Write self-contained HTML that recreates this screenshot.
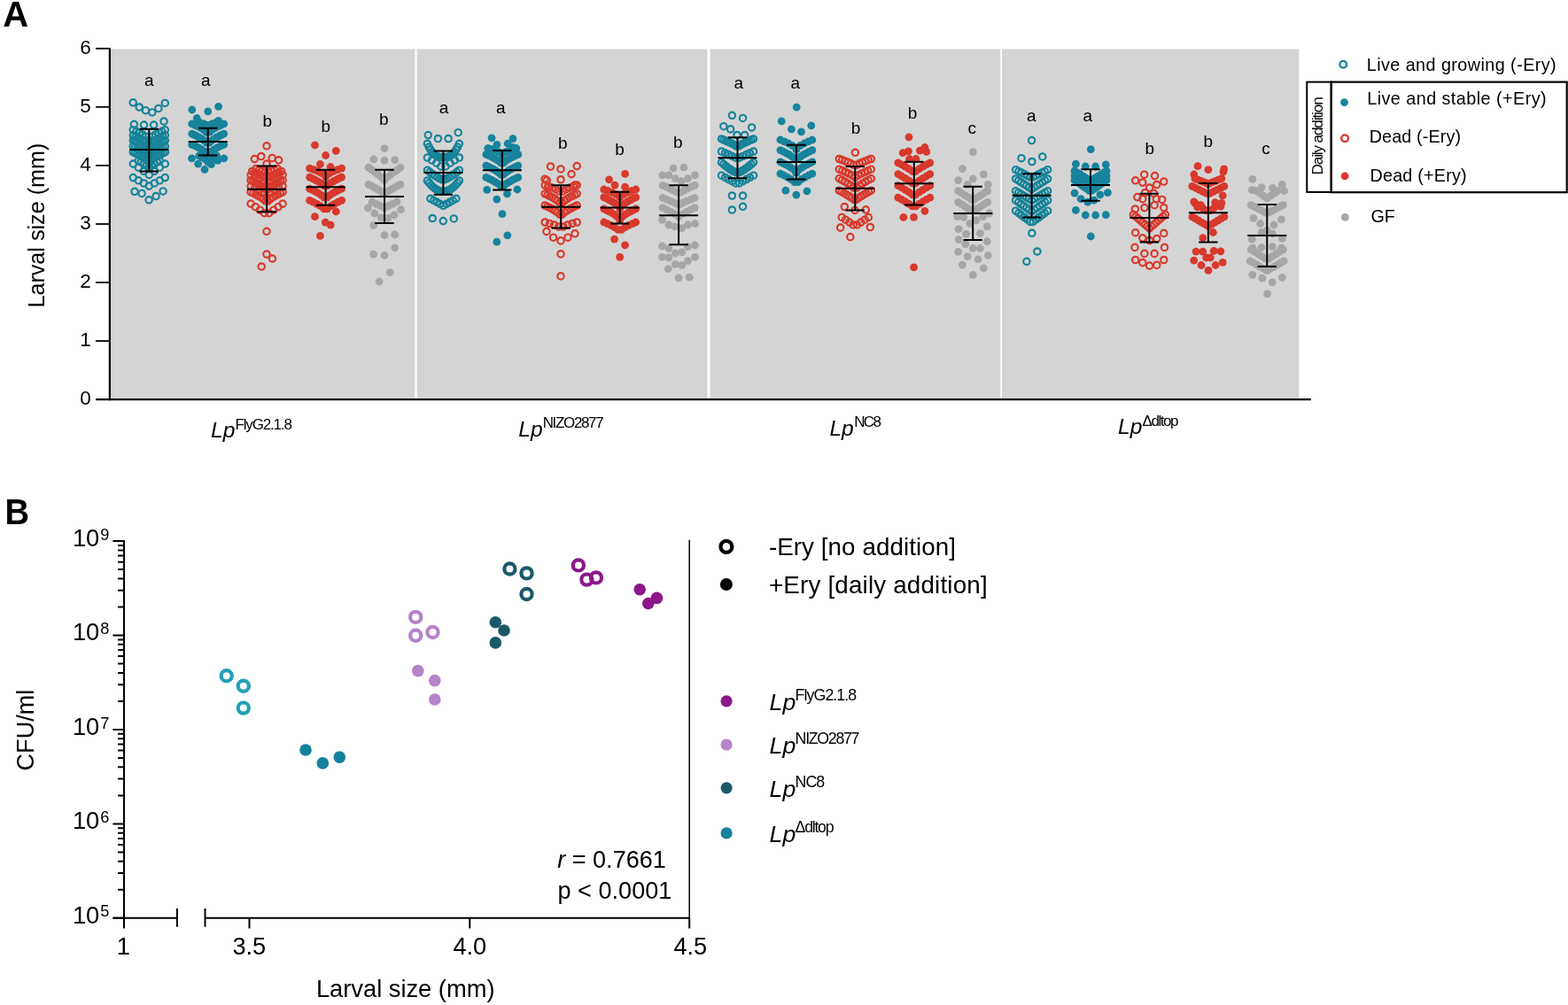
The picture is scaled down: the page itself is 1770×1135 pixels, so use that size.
<!DOCTYPE html>
<html lang="en"><head><meta charset="utf-8"><title>Figure: larval size and CFU</title>
<style>html,body{margin:0;padding:0;background:#fff}body{width:1770px;height:1135px;overflow:hidden}svg{display:block}</style>
</head><body>
<svg width="1770" height="1135" viewBox="0 0 1770 1135" font-family="'Liberation Sans', sans-serif" fill="#000">
<rect width="1770" height="1135" fill="#fff"/>
<g id="panelA">
<rect x="124" y="55.4" width="1342.4" height="395" fill="#d4d4d4"/>
<rect x="468.40" y="54" width="2.2" height="396.5" fill="#fff"/>
<rect x="798.40" y="54" width="3.2" height="396.5" fill="#fff"/>
<rect x="1129.25" y="54" width="1.8" height="396.5" fill="#fff"/>
<g fill="none" stroke="#15839a" stroke-width="2.15">
<circle cx="150.2" cy="115.8" r="3.7"/>
<circle cx="157.2" cy="121" r="3.7"/>
<circle cx="164.4" cy="124.7" r="3.7"/>
<circle cx="171.8" cy="126.9" r="3.7"/>
<circle cx="178.9" cy="122.4" r="3.7"/>
<circle cx="186.3" cy="116.4" r="3.7"/>
<circle cx="151.4" cy="140.3" r="3.7"/>
<circle cx="162.5" cy="141.1" r="3.7"/>
<circle cx="173.6" cy="141.1" r="3.7"/>
<circle cx="185" cy="137" r="3.7"/>
<circle cx="150.3" cy="146.7" r="3.7"/>
<circle cx="153.9" cy="148.3" r="3.7"/>
<circle cx="157.5" cy="149.9" r="3.7"/>
<circle cx="161.1" cy="151.9" r="3.7"/>
<circle cx="164.7" cy="154.2" r="3.7"/>
<circle cx="168.3" cy="158.2" r="3.7"/>
<circle cx="171.9" cy="154.2" r="3.7"/>
<circle cx="175.5" cy="151.9" r="3.7"/>
<circle cx="179.1" cy="149.9" r="3.7"/>
<circle cx="182.7" cy="148.3" r="3.7"/>
<circle cx="186.3" cy="146.7" r="3.7"/>
<circle cx="150.3" cy="152.8" r="3.7"/>
<circle cx="153.1" cy="154" r="3.7"/>
<circle cx="155.8" cy="155.4" r="3.7"/>
<circle cx="158.6" cy="156.8" r="3.7"/>
<circle cx="161.4" cy="158.4" r="3.7"/>
<circle cx="164.1" cy="160.2" r="3.7"/>
<circle cx="166.9" cy="162.5" r="3.7"/>
<circle cx="169.7" cy="162.5" r="3.7"/>
<circle cx="172.5" cy="160.2" r="3.7"/>
<circle cx="175.2" cy="158.4" r="3.7"/>
<circle cx="178" cy="156.8" r="3.7"/>
<circle cx="180.8" cy="155.4" r="3.7"/>
<circle cx="183.5" cy="154" r="3.7"/>
<circle cx="186.3" cy="152.8" r="3.7"/>
<circle cx="150.3" cy="158.7" r="3.7"/>
<circle cx="152.4" cy="159.7" r="3.7"/>
<circle cx="154.5" cy="160.7" r="3.7"/>
<circle cx="156.7" cy="161.8" r="3.7"/>
<circle cx="158.8" cy="162.9" r="3.7"/>
<circle cx="160.9" cy="164.2" r="3.7"/>
<circle cx="163" cy="165.6" r="3.7"/>
<circle cx="165.1" cy="167.2" r="3.7"/>
<circle cx="167.2" cy="169.2" r="3.7"/>
<circle cx="169.4" cy="169.2" r="3.7"/>
<circle cx="171.5" cy="167.2" r="3.7"/>
<circle cx="173.6" cy="165.6" r="3.7"/>
<circle cx="175.7" cy="164.2" r="3.7"/>
<circle cx="177.8" cy="162.9" r="3.7"/>
<circle cx="179.9" cy="161.8" r="3.7"/>
<circle cx="182.1" cy="160.7" r="3.7"/>
<circle cx="184.2" cy="159.7" r="3.7"/>
<circle cx="186.3" cy="158.7" r="3.7"/>
<circle cx="150.3" cy="165.3" r="3.7"/>
<circle cx="152.7" cy="166.4" r="3.7"/>
<circle cx="155.1" cy="167.6" r="3.7"/>
<circle cx="157.5" cy="168.8" r="3.7"/>
<circle cx="159.9" cy="170.2" r="3.7"/>
<circle cx="162.3" cy="171.7" r="3.7"/>
<circle cx="164.7" cy="173.4" r="3.7"/>
<circle cx="167.1" cy="175.6" r="3.7"/>
<circle cx="169.5" cy="175.6" r="3.7"/>
<circle cx="171.9" cy="173.4" r="3.7"/>
<circle cx="174.3" cy="171.7" r="3.7"/>
<circle cx="176.7" cy="170.2" r="3.7"/>
<circle cx="179.1" cy="168.8" r="3.7"/>
<circle cx="181.5" cy="167.6" r="3.7"/>
<circle cx="183.9" cy="166.4" r="3.7"/>
<circle cx="186.3" cy="165.3" r="3.7"/>
<circle cx="150.3" cy="171.8" r="3.7"/>
<circle cx="152.6" cy="172.8" r="3.7"/>
<circle cx="154.8" cy="173.9" r="3.7"/>
<circle cx="157.1" cy="175.1" r="3.7"/>
<circle cx="159.3" cy="176.3" r="3.7"/>
<circle cx="161.6" cy="177.7" r="3.7"/>
<circle cx="163.8" cy="179.2" r="3.7"/>
<circle cx="166.1" cy="181.1" r="3.7"/>
<circle cx="168.3" cy="184.3" r="3.7"/>
<circle cx="170.6" cy="181.1" r="3.7"/>
<circle cx="172.8" cy="179.2" r="3.7"/>
<circle cx="175.1" cy="177.7" r="3.7"/>
<circle cx="177.3" cy="176.3" r="3.7"/>
<circle cx="179.6" cy="175.1" r="3.7"/>
<circle cx="181.8" cy="173.9" r="3.7"/>
<circle cx="184.1" cy="172.8" r="3.7"/>
<circle cx="186.3" cy="171.8" r="3.7"/>
<circle cx="156.3" cy="181.5" r="3.7"/>
<circle cx="159.3" cy="183" r="3.7"/>
<circle cx="162.3" cy="184.8" r="3.7"/>
<circle cx="165.3" cy="186.8" r="3.7"/>
<circle cx="168.3" cy="190.5" r="3.7"/>
<circle cx="171.3" cy="186.8" r="3.7"/>
<circle cx="174.3" cy="184.8" r="3.7"/>
<circle cx="177.3" cy="183" r="3.7"/>
<circle cx="180.3" cy="181.5" r="3.7"/>
<circle cx="150.3" cy="185.1" r="3.7"/>
<circle cx="156.3" cy="189.2" r="3.7"/>
<circle cx="162.3" cy="193.3" r="3.7"/>
<circle cx="168.3" cy="197.4" r="3.7"/>
<circle cx="174.3" cy="193.3" r="3.7"/>
<circle cx="180.3" cy="189.2" r="3.7"/>
<circle cx="186.3" cy="185.1" r="3.7"/>
<circle cx="150.3" cy="200.6" r="3.7"/>
<circle cx="156.3" cy="203.8" r="3.7"/>
<circle cx="162.3" cy="206.9" r="3.7"/>
<circle cx="168.3" cy="210.1" r="3.7"/>
<circle cx="174.3" cy="206.9" r="3.7"/>
<circle cx="180.3" cy="203.8" r="3.7"/>
<circle cx="186.3" cy="200.6" r="3.7"/>
<circle cx="152" cy="216.3" r="3.7"/>
<circle cx="160.1" cy="218.4" r="3.7"/>
<circle cx="168.1" cy="225.8" r="3.7"/>
<circle cx="176.1" cy="221.5" r="3.7"/>
<circle cx="184.1" cy="215.9" r="3.7"/>
</g>
<path d="M146.3 169.1H190.3M168.3 145.7V193.5M157.6 145.7H179M157.6 193.5H179" stroke="#000" stroke-width="2" fill="none"/>
<text x="168.4" y="96.5" font-size="19" text-anchor="middle">a</text>
<g fill="#17839c">
<circle cx="216.8" cy="124" r="4.4"/>
<circle cx="234.7" cy="125.9" r="4.4"/>
<circle cx="246.6" cy="120.3" r="4.4"/>
<circle cx="222.3" cy="133.5" r="4.4"/>
<circle cx="246.6" cy="136.4" r="4.4"/>
<circle cx="225.7" cy="138.5" r="4.4"/>
<circle cx="230.2" cy="140" r="4.4"/>
<circle cx="234.7" cy="141.5" r="4.4"/>
<circle cx="239.2" cy="140" r="4.4"/>
<circle cx="243.7" cy="138.5" r="4.4"/>
<circle cx="216.7" cy="139.8" r="4.4"/>
<circle cx="220" cy="141.3" r="4.4"/>
<circle cx="223.3" cy="142.9" r="4.4"/>
<circle cx="226.5" cy="144.6" r="4.4"/>
<circle cx="229.8" cy="146.6" r="4.4"/>
<circle cx="233.1" cy="149.3" r="4.4"/>
<circle cx="236.4" cy="149.3" r="4.4"/>
<circle cx="239.6" cy="146.6" r="4.4"/>
<circle cx="242.9" cy="144.6" r="4.4"/>
<circle cx="246.2" cy="142.9" r="4.4"/>
<circle cx="249.4" cy="141.3" r="4.4"/>
<circle cx="252.7" cy="139.8" r="4.4"/>
<circle cx="216.7" cy="151.1" r="4.4"/>
<circle cx="219.5" cy="152.4" r="4.4"/>
<circle cx="222.3" cy="153.8" r="4.4"/>
<circle cx="225" cy="155.2" r="4.4"/>
<circle cx="227.8" cy="156.9" r="4.4"/>
<circle cx="230.6" cy="158.8" r="4.4"/>
<circle cx="233.3" cy="161.2" r="4.4"/>
<circle cx="236.1" cy="161.2" r="4.4"/>
<circle cx="238.9" cy="158.8" r="4.4"/>
<circle cx="241.6" cy="156.9" r="4.4"/>
<circle cx="244.4" cy="155.2" r="4.4"/>
<circle cx="247.2" cy="153.8" r="4.4"/>
<circle cx="250" cy="152.4" r="4.4"/>
<circle cx="252.7" cy="151.1" r="4.4"/>
<circle cx="216.7" cy="163.3" r="4.4"/>
<circle cx="220.3" cy="164.9" r="4.4"/>
<circle cx="223.9" cy="166.7" r="4.4"/>
<circle cx="227.5" cy="168.7" r="4.4"/>
<circle cx="231.1" cy="171.1" r="4.4"/>
<circle cx="234.7" cy="175.3" r="4.4"/>
<circle cx="238.3" cy="171.1" r="4.4"/>
<circle cx="241.9" cy="168.7" r="4.4"/>
<circle cx="245.5" cy="166.7" r="4.4"/>
<circle cx="249.1" cy="164.9" r="4.4"/>
<circle cx="252.7" cy="163.3" r="4.4"/>
<circle cx="224.7" cy="176" r="4.4"/>
<circle cx="228.1" cy="177.6" r="4.4"/>
<circle cx="231.4" cy="179.6" r="4.4"/>
<circle cx="234.7" cy="183" r="4.4"/>
<circle cx="238.1" cy="179.6" r="4.4"/>
<circle cx="241.4" cy="177.6" r="4.4"/>
<circle cx="244.7" cy="176" r="4.4"/>
<circle cx="216.5" cy="178.9" r="4.4"/>
<circle cx="223.6" cy="185.1" r="4.4"/>
<circle cx="231" cy="191.5" r="4.4"/>
<circle cx="238.4" cy="185.7" r="4.4"/>
<circle cx="245.8" cy="181.4" r="4.4"/>
<circle cx="252.8" cy="178.9" r="4.4"/>
</g>
<path d="M212.7 160H256.7M234.7 144.7V175.6M224 144.7H245.4M224 175.6H245.4" stroke="#000" stroke-width="2" fill="none"/>
<text x="232.3" y="96.5" font-size="19" text-anchor="middle">a</text>
<g fill="none" stroke="#d8392c" stroke-width="2.15">
<circle cx="301" cy="164.8" r="3.7"/>
<circle cx="287.4" cy="179.6" r="3.7"/>
<circle cx="294.8" cy="176.5" r="3.7"/>
<circle cx="307.2" cy="178.4" r="3.7"/>
<circle cx="314.6" cy="180.8" r="3.7"/>
<circle cx="301" cy="185.1" r="3.7"/>
<circle cx="289.1" cy="190.5" r="3.7"/>
<circle cx="292.6" cy="191.7" r="3.7"/>
<circle cx="296" cy="193" r="3.7"/>
<circle cx="299.4" cy="194.8" r="3.7"/>
<circle cx="302.9" cy="194.8" r="3.7"/>
<circle cx="306.3" cy="193" r="3.7"/>
<circle cx="309.7" cy="191.7" r="3.7"/>
<circle cx="313.1" cy="190.5" r="3.7"/>
<circle cx="284.6" cy="193.5" r="3.7"/>
<circle cx="287.6" cy="194.7" r="3.7"/>
<circle cx="290.6" cy="195.9" r="3.7"/>
<circle cx="293.6" cy="197.3" r="3.7"/>
<circle cx="296.6" cy="198.9" r="3.7"/>
<circle cx="299.6" cy="201" r="3.7"/>
<circle cx="302.6" cy="201" r="3.7"/>
<circle cx="305.6" cy="198.9" r="3.7"/>
<circle cx="308.6" cy="197.3" r="3.7"/>
<circle cx="311.6" cy="195.9" r="3.7"/>
<circle cx="314.6" cy="194.7" r="3.7"/>
<circle cx="317.6" cy="193.5" r="3.7"/>
<circle cx="283.1" cy="197.6" r="3.7"/>
<circle cx="287.6" cy="199.6" r="3.7"/>
<circle cx="292.1" cy="202" r="3.7"/>
<circle cx="296.6" cy="204.7" r="3.7"/>
<circle cx="301.1" cy="209.6" r="3.7"/>
<circle cx="305.6" cy="204.7" r="3.7"/>
<circle cx="310.1" cy="202" r="3.7"/>
<circle cx="314.6" cy="199.6" r="3.7"/>
<circle cx="319.1" cy="197.6" r="3.7"/>
<circle cx="283.1" cy="203.7" r="3.7"/>
<circle cx="285.5" cy="204.8" r="3.7"/>
<circle cx="287.9" cy="206" r="3.7"/>
<circle cx="290.3" cy="207.2" r="3.7"/>
<circle cx="292.7" cy="208.6" r="3.7"/>
<circle cx="295.1" cy="210.1" r="3.7"/>
<circle cx="297.5" cy="211.8" r="3.7"/>
<circle cx="299.9" cy="214" r="3.7"/>
<circle cx="302.3" cy="214" r="3.7"/>
<circle cx="304.7" cy="211.8" r="3.7"/>
<circle cx="307.1" cy="210.1" r="3.7"/>
<circle cx="309.5" cy="208.6" r="3.7"/>
<circle cx="311.9" cy="207.2" r="3.7"/>
<circle cx="314.3" cy="206" r="3.7"/>
<circle cx="316.7" cy="204.8" r="3.7"/>
<circle cx="319.1" cy="203.7" r="3.7"/>
<circle cx="283.1" cy="210.3" r="3.7"/>
<circle cx="287.6" cy="212.4" r="3.7"/>
<circle cx="292.1" cy="214.8" r="3.7"/>
<circle cx="296.6" cy="217.7" r="3.7"/>
<circle cx="301.1" cy="222.8" r="3.7"/>
<circle cx="305.6" cy="217.7" r="3.7"/>
<circle cx="310.1" cy="214.8" r="3.7"/>
<circle cx="314.6" cy="212.4" r="3.7"/>
<circle cx="319.1" cy="210.3" r="3.7"/>
<circle cx="283.1" cy="216.9" r="3.7"/>
<circle cx="285.9" cy="218.2" r="3.7"/>
<circle cx="288.7" cy="219.6" r="3.7"/>
<circle cx="291.4" cy="221" r="3.7"/>
<circle cx="294.2" cy="222.7" r="3.7"/>
<circle cx="297" cy="224.6" r="3.7"/>
<circle cx="299.8" cy="227" r="3.7"/>
<circle cx="302.5" cy="227" r="3.7"/>
<circle cx="305.3" cy="224.6" r="3.7"/>
<circle cx="308.1" cy="222.7" r="3.7"/>
<circle cx="310.8" cy="221" r="3.7"/>
<circle cx="313.6" cy="219.6" r="3.7"/>
<circle cx="316.4" cy="218.2" r="3.7"/>
<circle cx="319.1" cy="216.9" r="3.7"/>
<circle cx="283.1" cy="230.1" r="3.7"/>
<circle cx="288.3" cy="233.7" r="3.7"/>
<circle cx="293.4" cy="237.2" r="3.7"/>
<circle cx="298.6" cy="240.7" r="3.7"/>
<circle cx="303.7" cy="240.7" r="3.7"/>
<circle cx="308.9" cy="237.2" r="3.7"/>
<circle cx="314" cy="233.7" r="3.7"/>
<circle cx="319.1" cy="230.1" r="3.7"/>
<circle cx="301" cy="261.3" r="3.7"/>
<circle cx="301" cy="287.1" r="3.7"/>
<circle cx="307.4" cy="292" r="3.7"/>
<circle cx="295.2" cy="301" r="3.7"/>
</g>
<path d="M279.1 213.7H323.1M301.1 187.4V239.3M290.4 187.4H311.8M290.4 239.3H311.8" stroke="#000" stroke-width="2" fill="none"/>
<text x="301.7" y="142.9" font-size="19" text-anchor="middle">b</text>
<g fill="#d8392c">
<circle cx="355.5" cy="163.9" r="4.4"/>
<circle cx="379.3" cy="170.3" r="4.4"/>
<circle cx="367.6" cy="175.5" r="4.4"/>
<circle cx="361.4" cy="185.5" r="4.4"/>
<circle cx="373.1" cy="188.5" r="4.4"/>
<circle cx="349.6" cy="190.1" r="4.4"/>
<circle cx="354.1" cy="191.7" r="4.4"/>
<circle cx="358.6" cy="193.5" r="4.4"/>
<circle cx="363.1" cy="195.7" r="4.4"/>
<circle cx="367.6" cy="199.6" r="4.4"/>
<circle cx="372.1" cy="195.7" r="4.4"/>
<circle cx="376.6" cy="193.5" r="4.4"/>
<circle cx="381.1" cy="191.7" r="4.4"/>
<circle cx="385.6" cy="190.1" r="4.4"/>
<circle cx="349.6" cy="200.1" r="4.4"/>
<circle cx="352.8" cy="201.6" r="4.4"/>
<circle cx="356.1" cy="203.3" r="4.4"/>
<circle cx="359.4" cy="205.1" r="4.4"/>
<circle cx="362.7" cy="207.2" r="4.4"/>
<circle cx="365.9" cy="210" r="4.4"/>
<circle cx="369.2" cy="210" r="4.4"/>
<circle cx="372.5" cy="207.2" r="4.4"/>
<circle cx="375.7" cy="205.1" r="4.4"/>
<circle cx="379" cy="203.3" r="4.4"/>
<circle cx="382.3" cy="201.6" r="4.4"/>
<circle cx="385.6" cy="200.1" r="4.4"/>
<circle cx="349.6" cy="213.2" r="4.4"/>
<circle cx="352.8" cy="214.7" r="4.4"/>
<circle cx="356.1" cy="216.4" r="4.4"/>
<circle cx="359.4" cy="218.2" r="4.4"/>
<circle cx="362.7" cy="220.3" r="4.4"/>
<circle cx="365.9" cy="223.1" r="4.4"/>
<circle cx="369.2" cy="223.1" r="4.4"/>
<circle cx="372.5" cy="220.3" r="4.4"/>
<circle cx="375.7" cy="218.2" r="4.4"/>
<circle cx="379" cy="216.4" r="4.4"/>
<circle cx="382.3" cy="214.7" r="4.4"/>
<circle cx="385.6" cy="213.2" r="4.4"/>
<circle cx="349.6" cy="226.3" r="4.4"/>
<circle cx="353.6" cy="228.2" r="4.4"/>
<circle cx="357.6" cy="230.3" r="4.4"/>
<circle cx="361.6" cy="232.7" r="4.4"/>
<circle cx="365.6" cy="235.8" r="4.4"/>
<circle cx="369.6" cy="235.8" r="4.4"/>
<circle cx="373.6" cy="232.7" r="4.4"/>
<circle cx="377.6" cy="230.3" r="4.4"/>
<circle cx="381.6" cy="228.2" r="4.4"/>
<circle cx="385.6" cy="226.3" r="4.4"/>
<circle cx="379.3" cy="239" r="4.4"/>
<circle cx="355.5" cy="244.7" r="4.4"/>
<circle cx="367.3" cy="251.1" r="4.4"/>
<circle cx="373.1" cy="254.2" r="4.4"/>
<circle cx="361.4" cy="266.3" r="4.4"/>
</g>
<path d="M345.6 211.2H389.6M367.6 191.7V231.8M356.9 191.7H378.3M356.9 231.8H378.3" stroke="#000" stroke-width="2" fill="none"/>
<text x="367.9" y="148.5" font-size="19" text-anchor="middle">b</text>
<g fill="#a6a6a8">
<circle cx="434" cy="167.6" r="4.4"/>
<circle cx="422" cy="179.9" r="4.4"/>
<circle cx="434" cy="181.2" r="4.4"/>
<circle cx="445.7" cy="180.6" r="4.4"/>
<circle cx="416" cy="189.2" r="4.4"/>
<circle cx="419.6" cy="191.8" r="4.4"/>
<circle cx="423.2" cy="194.4" r="4.4"/>
<circle cx="426.8" cy="197.1" r="4.4"/>
<circle cx="430.4" cy="200" r="4.4"/>
<circle cx="434" cy="203.4" r="4.4"/>
<circle cx="437.6" cy="200" r="4.4"/>
<circle cx="441.2" cy="197.1" r="4.4"/>
<circle cx="444.8" cy="194.4" r="4.4"/>
<circle cx="448.4" cy="191.8" r="4.4"/>
<circle cx="452" cy="189.2" r="4.4"/>
<circle cx="416" cy="208.3" r="4.4"/>
<circle cx="419.3" cy="210" r="4.4"/>
<circle cx="422.5" cy="211.8" r="4.4"/>
<circle cx="425.8" cy="213.6" r="4.4"/>
<circle cx="429.1" cy="215.5" r="4.4"/>
<circle cx="432.3" cy="217.6" r="4.4"/>
<circle cx="435.6" cy="217.6" r="4.4"/>
<circle cx="438.9" cy="215.5" r="4.4"/>
<circle cx="442.2" cy="213.6" r="4.4"/>
<circle cx="445.4" cy="211.8" r="4.4"/>
<circle cx="448.7" cy="210" r="4.4"/>
<circle cx="452" cy="208.3" r="4.4"/>
<circle cx="420" cy="228" r="4.4"/>
<circle cx="424.6" cy="230.3" r="4.4"/>
<circle cx="429.3" cy="232.5" r="4.4"/>
<circle cx="434" cy="234.8" r="4.4"/>
<circle cx="438.6" cy="232.5" r="4.4"/>
<circle cx="443.3" cy="230.3" r="4.4"/>
<circle cx="448" cy="228" r="4.4"/>
<circle cx="415.5" cy="234.8" r="4.4"/>
<circle cx="452.5" cy="236.7" r="4.4"/>
<circle cx="422.9" cy="241" r="4.4"/>
<circle cx="445.1" cy="242.8" r="4.4"/>
<circle cx="430.3" cy="245.9" r="4.4"/>
<circle cx="437.7" cy="246.5" r="4.4"/>
<circle cx="421.7" cy="254.5" r="4.4"/>
<circle cx="434" cy="265.6" r="4.4"/>
<circle cx="445.7" cy="265" r="4.4"/>
<circle cx="445.7" cy="279.8" r="4.4"/>
<circle cx="421.7" cy="287.2" r="4.4"/>
<circle cx="434" cy="288.4" r="4.4"/>
<circle cx="440.2" cy="307.7" r="4.4"/>
<circle cx="428.1" cy="318" r="4.4"/>
</g>
<path d="M412 222H456M434 191.7V252.1M423.3 191.7H444.7M423.3 252.1H444.7" stroke="#000" stroke-width="2" fill="none"/>
<text x="433.4" y="140.5" font-size="19" text-anchor="middle">b</text>
<g fill="none" stroke="#15839a" stroke-width="2.15">
<circle cx="483.3" cy="152.6" r="3.7"/>
<circle cx="494.4" cy="156.5" r="3.7"/>
<circle cx="506.1" cy="156.5" r="3.7"/>
<circle cx="517.2" cy="149.7" r="3.7"/>
<circle cx="482.4" cy="162.3" r="3.7"/>
<circle cx="484.2" cy="166" r="3.7"/>
<circle cx="486" cy="169.1" r="3.7"/>
<circle cx="487.8" cy="171.7" r="3.7"/>
<circle cx="489.6" cy="173.7" r="3.7"/>
<circle cx="491.4" cy="175.3" r="3.7"/>
<circle cx="493.2" cy="176.4" r="3.7"/>
<circle cx="495" cy="177.2" r="3.7"/>
<circle cx="496.8" cy="177.6" r="3.7"/>
<circle cx="498.6" cy="177.8" r="3.7"/>
<circle cx="500.4" cy="177.8" r="3.7"/>
<circle cx="502.2" cy="177.8" r="3.7"/>
<circle cx="504" cy="177.6" r="3.7"/>
<circle cx="505.8" cy="177.2" r="3.7"/>
<circle cx="507.6" cy="176.4" r="3.7"/>
<circle cx="509.4" cy="175.3" r="3.7"/>
<circle cx="511.2" cy="173.7" r="3.7"/>
<circle cx="513" cy="171.7" r="3.7"/>
<circle cx="514.8" cy="169.1" r="3.7"/>
<circle cx="516.6" cy="166" r="3.7"/>
<circle cx="518.4" cy="162.3" r="3.7"/>
<circle cx="482.4" cy="178" r="3.7"/>
<circle cx="487.5" cy="180.9" r="3.7"/>
<circle cx="492.7" cy="184.2" r="3.7"/>
<circle cx="497.8" cy="187.9" r="3.7"/>
<circle cx="503" cy="187.9" r="3.7"/>
<circle cx="508.1" cy="184.2" r="3.7"/>
<circle cx="513.3" cy="180.9" r="3.7"/>
<circle cx="518.4" cy="178" r="3.7"/>
<circle cx="482.4" cy="192.2" r="3.7"/>
<circle cx="485.2" cy="194.3" r="3.7"/>
<circle cx="487.9" cy="196.4" r="3.7"/>
<circle cx="490.7" cy="198.3" r="3.7"/>
<circle cx="493.5" cy="200" r="3.7"/>
<circle cx="496.2" cy="201.6" r="3.7"/>
<circle cx="499" cy="202.8" r="3.7"/>
<circle cx="501.8" cy="202.8" r="3.7"/>
<circle cx="504.6" cy="201.6" r="3.7"/>
<circle cx="507.3" cy="200" r="3.7"/>
<circle cx="510.1" cy="198.3" r="3.7"/>
<circle cx="512.9" cy="196.4" r="3.7"/>
<circle cx="515.6" cy="194.3" r="3.7"/>
<circle cx="518.4" cy="192.2" r="3.7"/>
<circle cx="482.4" cy="204" r="3.7"/>
<circle cx="484.5" cy="206.7" r="3.7"/>
<circle cx="486.6" cy="209.1" r="3.7"/>
<circle cx="488.8" cy="211.2" r="3.7"/>
<circle cx="490.9" cy="212.9" r="3.7"/>
<circle cx="493" cy="214.2" r="3.7"/>
<circle cx="495.1" cy="215.2" r="3.7"/>
<circle cx="497.2" cy="215.9" r="3.7"/>
<circle cx="499.3" cy="216.3" r="3.7"/>
<circle cx="501.5" cy="216.3" r="3.7"/>
<circle cx="503.6" cy="215.9" r="3.7"/>
<circle cx="505.7" cy="215.2" r="3.7"/>
<circle cx="507.8" cy="214.2" r="3.7"/>
<circle cx="509.9" cy="212.9" r="3.7"/>
<circle cx="512" cy="211.2" r="3.7"/>
<circle cx="514.2" cy="209.1" r="3.7"/>
<circle cx="516.3" cy="206.7" r="3.7"/>
<circle cx="518.4" cy="204" r="3.7"/>
<circle cx="485.9" cy="224.3" r="3.7"/>
<circle cx="489.5" cy="226.3" r="3.7"/>
<circle cx="493.2" cy="228.3" r="3.7"/>
<circle cx="496.8" cy="230.3" r="3.7"/>
<circle cx="500.4" cy="232.3" r="3.7"/>
<circle cx="504" cy="230.3" r="3.7"/>
<circle cx="507.7" cy="228.3" r="3.7"/>
<circle cx="511.3" cy="226.3" r="3.7"/>
<circle cx="514.9" cy="224.3" r="3.7"/>
<circle cx="488.2" cy="246.5" r="3.7"/>
<circle cx="500.3" cy="249.6" r="3.7"/>
<circle cx="512.3" cy="246.9" r="3.7"/>
</g>
<path d="M478.4 195H522.4M500.4 170.6V219.7M489.7 170.6H511.1M489.7 219.7H511.1" stroke="#000" stroke-width="2" fill="none"/>
<text x="501.1" y="127.5" font-size="19" text-anchor="middle">a</text>
<g fill="#17839c">
<circle cx="555" cy="155.8" r="4.4"/>
<circle cx="579" cy="156.6" r="4.4"/>
<circle cx="560.8" cy="163.4" r="4.4"/>
<circle cx="573.2" cy="162.2" r="4.4"/>
<circle cx="579.3" cy="166.5" r="4.4"/>
<circle cx="550.8" cy="167.5" r="4.4"/>
<circle cx="554.8" cy="168.7" r="4.4"/>
<circle cx="558.8" cy="170" r="4.4"/>
<circle cx="562.8" cy="171.7" r="4.4"/>
<circle cx="566.8" cy="174.5" r="4.4"/>
<circle cx="570.8" cy="171.7" r="4.4"/>
<circle cx="574.8" cy="170" r="4.4"/>
<circle cx="578.8" cy="168.7" r="4.4"/>
<circle cx="582.8" cy="167.5" r="4.4"/>
<circle cx="548.8" cy="174.4" r="4.4"/>
<circle cx="552.1" cy="175.9" r="4.4"/>
<circle cx="555.4" cy="177.5" r="4.4"/>
<circle cx="558.6" cy="179.2" r="4.4"/>
<circle cx="561.9" cy="181.2" r="4.4"/>
<circle cx="565.2" cy="183.9" r="4.4"/>
<circle cx="568.5" cy="183.9" r="4.4"/>
<circle cx="571.7" cy="181.2" r="4.4"/>
<circle cx="575" cy="179.2" r="4.4"/>
<circle cx="578.3" cy="177.5" r="4.4"/>
<circle cx="581.5" cy="175.9" r="4.4"/>
<circle cx="584.8" cy="174.4" r="4.4"/>
<circle cx="548.8" cy="187.1" r="4.4"/>
<circle cx="551.6" cy="188.4" r="4.4"/>
<circle cx="554.4" cy="189.8" r="4.4"/>
<circle cx="557.1" cy="191.2" r="4.4"/>
<circle cx="559.9" cy="192.9" r="4.4"/>
<circle cx="562.7" cy="194.8" r="4.4"/>
<circle cx="565.4" cy="197.2" r="4.4"/>
<circle cx="568.2" cy="197.2" r="4.4"/>
<circle cx="571" cy="194.8" r="4.4"/>
<circle cx="573.7" cy="192.9" r="4.4"/>
<circle cx="576.5" cy="191.2" r="4.4"/>
<circle cx="579.3" cy="189.8" r="4.4"/>
<circle cx="582.1" cy="188.4" r="4.4"/>
<circle cx="584.8" cy="187.1" r="4.4"/>
<circle cx="548.8" cy="200.3" r="4.4"/>
<circle cx="552.1" cy="201.8" r="4.4"/>
<circle cx="555.4" cy="203.5" r="4.4"/>
<circle cx="558.6" cy="205.3" r="4.4"/>
<circle cx="561.9" cy="207.4" r="4.4"/>
<circle cx="565.2" cy="210.2" r="4.4"/>
<circle cx="568.5" cy="210.2" r="4.4"/>
<circle cx="571.7" cy="207.4" r="4.4"/>
<circle cx="575" cy="205.3" r="4.4"/>
<circle cx="578.3" cy="203.5" r="4.4"/>
<circle cx="581.5" cy="201.8" r="4.4"/>
<circle cx="584.8" cy="200.3" r="4.4"/>
<circle cx="549.7" cy="214.4" r="4.4"/>
<circle cx="583.9" cy="214" r="4.4"/>
<circle cx="572.5" cy="218.9" r="4.4"/>
<circle cx="560.8" cy="225.1" r="4.4"/>
<circle cx="567" cy="241.7" r="4.4"/>
<circle cx="572.8" cy="265.8" r="4.4"/>
<circle cx="560.8" cy="273.2" r="4.4"/>
</g>
<path d="M544.8 192.2H588.8M566.8 170V214.4M556.1 170H577.5M556.1 214.4H577.5" stroke="#000" stroke-width="2" fill="none"/>
<text x="565.4" y="127.5" font-size="19" text-anchor="middle">a</text>
<g fill="none" stroke="#d8392c" stroke-width="2.15">
<circle cx="621.5" cy="188" r="3.7"/>
<circle cx="633" cy="190.9" r="3.7"/>
<circle cx="651.2" cy="187.6" r="3.7"/>
<circle cx="645.1" cy="196.6" r="3.7"/>
<circle cx="633" cy="202.8" r="3.7"/>
<circle cx="615.1" cy="202.2" r="3.7"/>
<circle cx="617.2" cy="203.7" r="3.7"/>
<circle cx="649" cy="209" r="3.7"/>
<circle cx="618.8" cy="210.8" r="3.7"/>
<circle cx="615.2" cy="209.1" r="3.7"/>
<circle cx="619.2" cy="210.5" r="3.7"/>
<circle cx="623.2" cy="212" r="3.7"/>
<circle cx="627.2" cy="213.7" r="3.7"/>
<circle cx="631.2" cy="215.9" r="3.7"/>
<circle cx="635.2" cy="215.9" r="3.7"/>
<circle cx="639.2" cy="213.7" r="3.7"/>
<circle cx="643.2" cy="212" r="3.7"/>
<circle cx="647.2" cy="210.5" r="3.7"/>
<circle cx="651.2" cy="209.1" r="3.7"/>
<circle cx="615.2" cy="218.8" r="3.7"/>
<circle cx="618" cy="220.1" r="3.7"/>
<circle cx="620.8" cy="221.5" r="3.7"/>
<circle cx="623.5" cy="222.9" r="3.7"/>
<circle cx="626.3" cy="224.6" r="3.7"/>
<circle cx="629.1" cy="226.5" r="3.7"/>
<circle cx="631.9" cy="228.9" r="3.7"/>
<circle cx="634.6" cy="228.9" r="3.7"/>
<circle cx="637.4" cy="226.5" r="3.7"/>
<circle cx="640.2" cy="224.6" r="3.7"/>
<circle cx="642.9" cy="222.9" r="3.7"/>
<circle cx="645.7" cy="221.5" r="3.7"/>
<circle cx="648.5" cy="220.1" r="3.7"/>
<circle cx="651.2" cy="218.8" r="3.7"/>
<circle cx="615.2" cy="232" r="3.7"/>
<circle cx="618" cy="233.3" r="3.7"/>
<circle cx="620.8" cy="234.7" r="3.7"/>
<circle cx="623.5" cy="236.1" r="3.7"/>
<circle cx="626.3" cy="237.8" r="3.7"/>
<circle cx="629.1" cy="239.7" r="3.7"/>
<circle cx="631.9" cy="242.1" r="3.7"/>
<circle cx="634.6" cy="242.1" r="3.7"/>
<circle cx="637.4" cy="239.7" r="3.7"/>
<circle cx="640.2" cy="237.8" r="3.7"/>
<circle cx="642.9" cy="236.1" r="3.7"/>
<circle cx="645.7" cy="234.7" r="3.7"/>
<circle cx="648.5" cy="233.3" r="3.7"/>
<circle cx="651.2" cy="232" r="3.7"/>
<circle cx="615.2" cy="251" r="3.7"/>
<circle cx="620.4" cy="252.4" r="3.7"/>
<circle cx="625.5" cy="254" r="3.7"/>
<circle cx="630.7" cy="256" r="3.7"/>
<circle cx="635.8" cy="256" r="3.7"/>
<circle cx="641" cy="254" r="3.7"/>
<circle cx="646.1" cy="252.4" r="3.7"/>
<circle cx="651.2" cy="251" r="3.7"/>
<circle cx="617" cy="261.4" r="3.7"/>
<circle cx="624.6" cy="268.2" r="3.7"/>
<circle cx="633" cy="271.9" r="3.7"/>
<circle cx="641" cy="268.2" r="3.7"/>
<circle cx="649" cy="263.8" r="3.7"/>
<circle cx="633" cy="286.9" r="3.7"/>
<circle cx="633" cy="311.9" r="3.7"/>
</g>
<path d="M611.2 233.7H655.2M633.2 209.3V257.5M622.5 209.3H643.9M622.5 257.5H643.9" stroke="#000" stroke-width="2" fill="none"/>
<text x="635.4" y="167.8" font-size="19" text-anchor="middle">b</text>
<g fill="#d8392c">
<circle cx="705.6" cy="196.4" r="4.4"/>
<circle cx="687.6" cy="202.8" r="4.4"/>
<circle cx="694" cy="209.1" r="4.4"/>
<circle cx="705.6" cy="211.2" r="4.4"/>
<circle cx="681.7" cy="214" r="4.4"/>
<circle cx="686.2" cy="215.5" r="4.4"/>
<circle cx="690.7" cy="217.3" r="4.4"/>
<circle cx="695.2" cy="219.3" r="4.4"/>
<circle cx="699.7" cy="223" r="4.4"/>
<circle cx="704.2" cy="219.3" r="4.4"/>
<circle cx="708.7" cy="217.3" r="4.4"/>
<circle cx="713.2" cy="215.5" r="4.4"/>
<circle cx="717.7" cy="214" r="4.4"/>
<circle cx="681.7" cy="222.8" r="4.4"/>
<circle cx="684.7" cy="224.2" r="4.4"/>
<circle cx="687.7" cy="225.8" r="4.4"/>
<circle cx="690.7" cy="227.4" r="4.4"/>
<circle cx="693.7" cy="229.3" r="4.4"/>
<circle cx="696.7" cy="231.6" r="4.4"/>
<circle cx="699.7" cy="235.6" r="4.4"/>
<circle cx="702.7" cy="231.6" r="4.4"/>
<circle cx="705.7" cy="229.3" r="4.4"/>
<circle cx="708.7" cy="227.4" r="4.4"/>
<circle cx="711.7" cy="225.8" r="4.4"/>
<circle cx="714.7" cy="224.2" r="4.4"/>
<circle cx="717.7" cy="222.8" r="4.4"/>
<circle cx="681.7" cy="235.8" r="4.4"/>
<circle cx="684.7" cy="237.3" r="4.4"/>
<circle cx="687.7" cy="238.8" r="4.4"/>
<circle cx="690.7" cy="240.5" r="4.4"/>
<circle cx="693.7" cy="242.4" r="4.4"/>
<circle cx="696.7" cy="244.7" r="4.4"/>
<circle cx="699.7" cy="248.8" r="4.4"/>
<circle cx="702.7" cy="244.7" r="4.4"/>
<circle cx="705.7" cy="242.4" r="4.4"/>
<circle cx="708.7" cy="240.5" r="4.4"/>
<circle cx="711.7" cy="238.8" r="4.4"/>
<circle cx="714.7" cy="237.3" r="4.4"/>
<circle cx="717.7" cy="235.8" r="4.4"/>
<circle cx="681.7" cy="251" r="4.4"/>
<circle cx="685.7" cy="252.7" r="4.4"/>
<circle cx="689.7" cy="254.5" r="4.4"/>
<circle cx="693.7" cy="256.6" r="4.4"/>
<circle cx="697.7" cy="259.4" r="4.4"/>
<circle cx="701.7" cy="259.4" r="4.4"/>
<circle cx="705.7" cy="256.6" r="4.4"/>
<circle cx="709.7" cy="254.5" r="4.4"/>
<circle cx="713.7" cy="252.7" r="4.4"/>
<circle cx="717.7" cy="251" r="4.4"/>
<circle cx="693.6" cy="270.1" r="4.4"/>
<circle cx="705.6" cy="276.8" r="4.4"/>
<circle cx="699.7" cy="290.3" r="4.4"/>
</g>
<path d="M677.7 234.5H721.7M699.7 216.8V252.4M689 216.8H710.4M689 252.4H710.4" stroke="#000" stroke-width="2" fill="none"/>
<text x="699.5" y="174.7" font-size="19" text-anchor="middle">b</text>
<g fill="#a6a6a8">
<circle cx="760.1" cy="189.9" r="4.4"/>
<circle cx="771.9" cy="189.2" r="4.4"/>
<circle cx="747.9" cy="197.9" r="4.4"/>
<circle cx="754.9" cy="197.9" r="4.4"/>
<circle cx="762.3" cy="201.6" r="4.4"/>
<circle cx="769.1" cy="204.7" r="4.4"/>
<circle cx="776.5" cy="201.6" r="4.4"/>
<circle cx="784.5" cy="197.9" r="4.4"/>
<circle cx="748.1" cy="209.3" r="4.4"/>
<circle cx="752.1" cy="211.1" r="4.4"/>
<circle cx="756.1" cy="213" r="4.4"/>
<circle cx="760.1" cy="215" r="4.4"/>
<circle cx="764.1" cy="217.1" r="4.4"/>
<circle cx="768.1" cy="217.1" r="4.4"/>
<circle cx="772.1" cy="215" r="4.4"/>
<circle cx="776.1" cy="213" r="4.4"/>
<circle cx="780.1" cy="211.1" r="4.4"/>
<circle cx="784.1" cy="209.3" r="4.4"/>
<circle cx="748.1" cy="223.5" r="4.4"/>
<circle cx="752.6" cy="225.3" r="4.4"/>
<circle cx="757.1" cy="227.2" r="4.4"/>
<circle cx="761.6" cy="229.2" r="4.4"/>
<circle cx="766.1" cy="231.5" r="4.4"/>
<circle cx="770.6" cy="229.2" r="4.4"/>
<circle cx="775.1" cy="227.2" r="4.4"/>
<circle cx="779.6" cy="225.3" r="4.4"/>
<circle cx="784.1" cy="223.5" r="4.4"/>
<circle cx="748.1" cy="234.6" r="4.4"/>
<circle cx="752.6" cy="236.9" r="4.4"/>
<circle cx="757.1" cy="239.2" r="4.4"/>
<circle cx="761.6" cy="241.7" r="4.4"/>
<circle cx="766.1" cy="244.6" r="4.4"/>
<circle cx="770.6" cy="241.7" r="4.4"/>
<circle cx="775.1" cy="239.2" r="4.4"/>
<circle cx="779.6" cy="236.9" r="4.4"/>
<circle cx="784.1" cy="234.6" r="4.4"/>
<circle cx="747.5" cy="248.4" r="4.4"/>
<circle cx="754.9" cy="254" r="4.4"/>
<circle cx="761.7" cy="255.8" r="4.4"/>
<circle cx="769.7" cy="257.7" r="4.4"/>
<circle cx="776.5" cy="254" r="4.4"/>
<circle cx="784.5" cy="252.7" r="4.4"/>
<circle cx="747.5" cy="278" r="4.4"/>
<circle cx="754.9" cy="280.5" r="4.4"/>
<circle cx="762.3" cy="286" r="4.4"/>
<circle cx="769.7" cy="284.8" r="4.4"/>
<circle cx="776.5" cy="278.6" r="4.4"/>
<circle cx="784.5" cy="276.8" r="4.4"/>
<circle cx="747.5" cy="290.4" r="4.4"/>
<circle cx="754.9" cy="291" r="4.4"/>
<circle cx="762.3" cy="298.4" r="4.4"/>
<circle cx="769.7" cy="299.6" r="4.4"/>
<circle cx="776.5" cy="294.7" r="4.4"/>
<circle cx="784.5" cy="290.4" r="4.4"/>
<circle cx="754.3" cy="303.7" r="4.4"/>
<circle cx="766" cy="313.8" r="4.4"/>
<circle cx="778.1" cy="313.2" r="4.4"/>
</g>
<path d="M744.1 243.3H788.1M766.1 209.3V276.2M755.4 209.3H776.8M755.4 276.2H776.8" stroke="#000" stroke-width="2" fill="none"/>
<text x="765.3" y="166.5" font-size="19" text-anchor="middle">b</text>
<g fill="none" stroke="#15839a" stroke-width="2.15">
<circle cx="826.4" cy="130.3" r="3.7"/>
<circle cx="838.5" cy="133.4" r="3.7"/>
<circle cx="816.9" cy="142.7" r="3.7"/>
<circle cx="824.6" cy="145.8" r="3.7"/>
<circle cx="848.6" cy="143.9" r="3.7"/>
<circle cx="832" cy="152.5" r="3.7"/>
<circle cx="840.6" cy="152.5" r="3.7"/>
<circle cx="814.5" cy="156.9" r="3.7"/>
<circle cx="816.9" cy="157.9" r="3.7"/>
<circle cx="819.3" cy="158.9" r="3.7"/>
<circle cx="821.7" cy="160" r="3.7"/>
<circle cx="824.1" cy="161.1" r="3.7"/>
<circle cx="826.5" cy="162.3" r="3.7"/>
<circle cx="828.9" cy="163.6" r="3.7"/>
<circle cx="831.3" cy="165" r="3.7"/>
<circle cx="833.7" cy="165" r="3.7"/>
<circle cx="836.1" cy="163.6" r="3.7"/>
<circle cx="838.5" cy="162.3" r="3.7"/>
<circle cx="840.9" cy="161.1" r="3.7"/>
<circle cx="843.3" cy="160" r="3.7"/>
<circle cx="845.7" cy="158.9" r="3.7"/>
<circle cx="848.1" cy="157.9" r="3.7"/>
<circle cx="850.5" cy="156.9" r="3.7"/>
<circle cx="814.5" cy="171" r="3.7"/>
<circle cx="818.5" cy="172.8" r="3.7"/>
<circle cx="822.5" cy="174.6" r="3.7"/>
<circle cx="826.5" cy="176.4" r="3.7"/>
<circle cx="830.5" cy="178.2" r="3.7"/>
<circle cx="834.5" cy="178.2" r="3.7"/>
<circle cx="838.5" cy="176.4" r="3.7"/>
<circle cx="842.5" cy="174.6" r="3.7"/>
<circle cx="846.5" cy="172.8" r="3.7"/>
<circle cx="850.5" cy="171" r="3.7"/>
<circle cx="814.5" cy="183.4" r="3.7"/>
<circle cx="816.9" cy="185.5" r="3.7"/>
<circle cx="819.3" cy="187.5" r="3.7"/>
<circle cx="821.7" cy="189.4" r="3.7"/>
<circle cx="824.1" cy="191.1" r="3.7"/>
<circle cx="826.5" cy="192.6" r="3.7"/>
<circle cx="828.9" cy="193.8" r="3.7"/>
<circle cx="831.3" cy="194.8" r="3.7"/>
<circle cx="833.7" cy="194.8" r="3.7"/>
<circle cx="836.1" cy="193.8" r="3.7"/>
<circle cx="838.5" cy="192.6" r="3.7"/>
<circle cx="840.9" cy="191.1" r="3.7"/>
<circle cx="843.3" cy="189.4" r="3.7"/>
<circle cx="845.7" cy="187.5" r="3.7"/>
<circle cx="848.1" cy="185.5" r="3.7"/>
<circle cx="850.5" cy="183.4" r="3.7"/>
<circle cx="814.5" cy="198.2" r="3.7"/>
<circle cx="818.5" cy="200.4" r="3.7"/>
<circle cx="822.5" cy="202.5" r="3.7"/>
<circle cx="826.5" cy="204.7" r="3.7"/>
<circle cx="830.5" cy="206.9" r="3.7"/>
<circle cx="834.5" cy="206.9" r="3.7"/>
<circle cx="838.5" cy="204.7" r="3.7"/>
<circle cx="842.5" cy="202.5" r="3.7"/>
<circle cx="846.5" cy="200.4" r="3.7"/>
<circle cx="850.5" cy="198.2" r="3.7"/>
<circle cx="826.4" cy="221" r="3.7"/>
<circle cx="838.5" cy="221" r="3.7"/>
<circle cx="826.4" cy="237" r="3.7"/>
<circle cx="838.5" cy="233.3" r="3.7"/>
</g>
<path d="M810.5 178.3H854.5M832.5 155.3V201.3M821.8 155.3H843.2M821.8 201.3H843.2" stroke="#000" stroke-width="2" fill="none"/>
<text x="833.8" y="100.1" font-size="19" text-anchor="middle">a</text>
<g fill="#17839c">
<circle cx="899.2" cy="121.1" r="4.4"/>
<circle cx="882.2" cy="136.9" r="4.4"/>
<circle cx="915.8" cy="141.8" r="4.4"/>
<circle cx="893.4" cy="145.8" r="4.4"/>
<circle cx="904.5" cy="148.8" r="4.4"/>
<circle cx="880.9" cy="158" r="4.4"/>
<circle cx="885.4" cy="159.9" r="4.4"/>
<circle cx="889.9" cy="162" r="4.4"/>
<circle cx="894.4" cy="164.5" r="4.4"/>
<circle cx="898.9" cy="169" r="4.4"/>
<circle cx="903.4" cy="164.5" r="4.4"/>
<circle cx="907.9" cy="162" r="4.4"/>
<circle cx="912.4" cy="159.9" r="4.4"/>
<circle cx="916.9" cy="158" r="4.4"/>
<circle cx="880.9" cy="169.7" r="4.4"/>
<circle cx="884.2" cy="171.2" r="4.4"/>
<circle cx="887.5" cy="172.9" r="4.4"/>
<circle cx="890.7" cy="174.7" r="4.4"/>
<circle cx="894" cy="176.8" r="4.4"/>
<circle cx="897.3" cy="179.6" r="4.4"/>
<circle cx="900.6" cy="179.6" r="4.4"/>
<circle cx="903.8" cy="176.8" r="4.4"/>
<circle cx="907.1" cy="174.7" r="4.4"/>
<circle cx="910.4" cy="172.9" r="4.4"/>
<circle cx="913.6" cy="171.2" r="4.4"/>
<circle cx="916.9" cy="169.7" r="4.4"/>
<circle cx="880.9" cy="182.9" r="4.4"/>
<circle cx="883.9" cy="184.3" r="4.4"/>
<circle cx="886.9" cy="185.8" r="4.4"/>
<circle cx="889.9" cy="187.4" r="4.4"/>
<circle cx="892.9" cy="189.3" r="4.4"/>
<circle cx="895.9" cy="191.5" r="4.4"/>
<circle cx="898.9" cy="195.4" r="4.4"/>
<circle cx="901.9" cy="191.5" r="4.4"/>
<circle cx="904.9" cy="189.3" r="4.4"/>
<circle cx="907.9" cy="187.4" r="4.4"/>
<circle cx="910.9" cy="185.8" r="4.4"/>
<circle cx="913.9" cy="184.3" r="4.4"/>
<circle cx="916.9" cy="182.9" r="4.4"/>
<circle cx="880.9" cy="196.1" r="4.4"/>
<circle cx="884.9" cy="198" r="4.4"/>
<circle cx="888.9" cy="200.1" r="4.4"/>
<circle cx="892.9" cy="202.5" r="4.4"/>
<circle cx="896.9" cy="205.6" r="4.4"/>
<circle cx="900.9" cy="205.6" r="4.4"/>
<circle cx="904.9" cy="202.5" r="4.4"/>
<circle cx="908.9" cy="200.1" r="4.4"/>
<circle cx="912.9" cy="198" r="4.4"/>
<circle cx="916.9" cy="196.1" r="4.4"/>
<circle cx="886.9" cy="215.2" r="4.4"/>
<circle cx="898.8" cy="220.1" r="4.4"/>
<circle cx="910.9" cy="215.8" r="4.4"/>
</g>
<path d="M876.9 182.9H920.9M898.9 163.8V202.5M888.2 163.8H909.6M888.2 202.5H909.6" stroke="#000" stroke-width="2" fill="none"/>
<text x="897.9" y="100.1" font-size="19" text-anchor="middle">a</text>
<g fill="none" stroke="#d8392c" stroke-width="2.15">
<circle cx="965.4" cy="172.3" r="3.7"/>
<circle cx="947.3" cy="179.5" r="3.7"/>
<circle cx="950.6" cy="180.6" r="3.7"/>
<circle cx="953.9" cy="181.9" r="3.7"/>
<circle cx="957.2" cy="183.2" r="3.7"/>
<circle cx="960.4" cy="184.6" r="3.7"/>
<circle cx="963.7" cy="186.3" r="3.7"/>
<circle cx="967" cy="186.3" r="3.7"/>
<circle cx="970.2" cy="184.6" r="3.7"/>
<circle cx="973.5" cy="183.2" r="3.7"/>
<circle cx="976.8" cy="181.9" r="3.7"/>
<circle cx="980.1" cy="180.6" r="3.7"/>
<circle cx="983.3" cy="179.5" r="3.7"/>
<circle cx="947.3" cy="191.2" r="3.7"/>
<circle cx="950.9" cy="192.7" r="3.7"/>
<circle cx="954.5" cy="194.3" r="3.7"/>
<circle cx="958.1" cy="196" r="3.7"/>
<circle cx="961.7" cy="197.9" r="3.7"/>
<circle cx="965.3" cy="200.4" r="3.7"/>
<circle cx="968.9" cy="197.9" r="3.7"/>
<circle cx="972.5" cy="196" r="3.7"/>
<circle cx="976.1" cy="194.3" r="3.7"/>
<circle cx="979.7" cy="192.7" r="3.7"/>
<circle cx="983.3" cy="191.2" r="3.7"/>
<circle cx="947.3" cy="201.7" r="3.7"/>
<circle cx="950.6" cy="203.4" r="3.7"/>
<circle cx="953.9" cy="205.3" r="3.7"/>
<circle cx="957.2" cy="207.3" r="3.7"/>
<circle cx="960.4" cy="209.5" r="3.7"/>
<circle cx="963.7" cy="212" r="3.7"/>
<circle cx="967" cy="212" r="3.7"/>
<circle cx="970.2" cy="209.5" r="3.7"/>
<circle cx="973.5" cy="207.3" r="3.7"/>
<circle cx="976.8" cy="205.3" r="3.7"/>
<circle cx="980.1" cy="203.4" r="3.7"/>
<circle cx="983.3" cy="201.7" r="3.7"/>
<circle cx="947.3" cy="215.2" r="3.7"/>
<circle cx="950.1" cy="216.7" r="3.7"/>
<circle cx="952.9" cy="218.2" r="3.7"/>
<circle cx="955.6" cy="219.8" r="3.7"/>
<circle cx="958.4" cy="221.5" r="3.7"/>
<circle cx="961.2" cy="223.3" r="3.7"/>
<circle cx="964" cy="225.4" r="3.7"/>
<circle cx="966.7" cy="225.4" r="3.7"/>
<circle cx="969.5" cy="223.3" r="3.7"/>
<circle cx="972.3" cy="221.5" r="3.7"/>
<circle cx="975" cy="219.8" r="3.7"/>
<circle cx="977.8" cy="218.2" r="3.7"/>
<circle cx="980.6" cy="216.7" r="3.7"/>
<circle cx="983.3" cy="215.2" r="3.7"/>
<circle cx="953.3" cy="233.5" r="3.7"/>
<circle cx="977.3" cy="236.8" r="3.7"/>
<circle cx="965" cy="237.4" r="3.7"/>
<circle cx="950.3" cy="245.4" r="3.7"/>
<circle cx="954.6" cy="248.2" r="3.7"/>
<circle cx="958.9" cy="251.1" r="3.7"/>
<circle cx="963.2" cy="253.9" r="3.7"/>
<circle cx="967.5" cy="253.9" r="3.7"/>
<circle cx="971.8" cy="251.1" r="3.7"/>
<circle cx="976.1" cy="248.2" r="3.7"/>
<circle cx="980.3" cy="245.4" r="3.7"/>
<circle cx="948.7" cy="257.1" r="3.7"/>
<circle cx="982.3" cy="256.5" r="3.7"/>
<circle cx="959.8" cy="267.6" r="3.7"/>
</g>
<path d="M943.3 212.7H987.3M965.3 188V237.5M954.6 188H976M954.6 237.5H976" stroke="#000" stroke-width="2" fill="none"/>
<text x="966" y="151" font-size="19" text-anchor="middle">b</text>
<g fill="#d8392c">
<circle cx="1026" cy="154.8" r="4.4"/>
<circle cx="1019.2" cy="172.7" r="4.4"/>
<circle cx="1025.4" cy="170.8" r="4.4"/>
<circle cx="1038.4" cy="170.2" r="4.4"/>
<circle cx="1043.9" cy="166.5" r="4.4"/>
<circle cx="1045.8" cy="171.4" r="4.4"/>
<circle cx="1026.6" cy="179.5" r="4.4"/>
<circle cx="1034" cy="179.5" r="4.4"/>
<circle cx="1013.8" cy="183.8" r="4.4"/>
<circle cx="1017.8" cy="185.9" r="4.4"/>
<circle cx="1021.8" cy="188.2" r="4.4"/>
<circle cx="1025.8" cy="190.6" r="4.4"/>
<circle cx="1029.8" cy="193.5" r="4.4"/>
<circle cx="1033.8" cy="193.5" r="4.4"/>
<circle cx="1037.8" cy="190.6" r="4.4"/>
<circle cx="1041.8" cy="188.2" r="4.4"/>
<circle cx="1045.8" cy="185.9" r="4.4"/>
<circle cx="1049.8" cy="183.8" r="4.4"/>
<circle cx="1013.8" cy="196.7" r="4.4"/>
<circle cx="1017.8" cy="199" r="4.4"/>
<circle cx="1021.8" cy="201.3" r="4.4"/>
<circle cx="1025.8" cy="203.9" r="4.4"/>
<circle cx="1029.8" cy="206.9" r="4.4"/>
<circle cx="1033.8" cy="206.9" r="4.4"/>
<circle cx="1037.8" cy="203.9" r="4.4"/>
<circle cx="1041.8" cy="201.3" r="4.4"/>
<circle cx="1045.8" cy="199" r="4.4"/>
<circle cx="1049.8" cy="196.7" r="4.4"/>
<circle cx="1013.8" cy="209.7" r="4.4"/>
<circle cx="1017.8" cy="211.9" r="4.4"/>
<circle cx="1021.8" cy="214.3" r="4.4"/>
<circle cx="1025.8" cy="216.9" r="4.4"/>
<circle cx="1029.8" cy="219.9" r="4.4"/>
<circle cx="1033.8" cy="219.9" r="4.4"/>
<circle cx="1037.8" cy="216.9" r="4.4"/>
<circle cx="1041.8" cy="214.3" r="4.4"/>
<circle cx="1045.8" cy="211.9" r="4.4"/>
<circle cx="1049.8" cy="209.7" r="4.4"/>
<circle cx="1013.8" cy="223.2" r="4.4"/>
<circle cx="1017.8" cy="225.4" r="4.4"/>
<circle cx="1021.8" cy="227.6" r="4.4"/>
<circle cx="1025.8" cy="230.1" r="4.4"/>
<circle cx="1029.8" cy="232.9" r="4.4"/>
<circle cx="1033.8" cy="232.9" r="4.4"/>
<circle cx="1037.8" cy="230.1" r="4.4"/>
<circle cx="1041.8" cy="227.6" r="4.4"/>
<circle cx="1045.8" cy="225.4" r="4.4"/>
<circle cx="1049.8" cy="223.2" r="4.4"/>
<circle cx="1043.9" cy="238.3" r="4.4"/>
<circle cx="1019.9" cy="245.4" r="4.4"/>
<circle cx="1031.6" cy="245.4" r="4.4"/>
<circle cx="1031.6" cy="301.9" r="4.4"/>
</g>
<path d="M1009.8 207.2H1053.8M1031.8 182.7V231.6M1021.1 182.7H1042.5M1021.1 231.6H1042.5" stroke="#000" stroke-width="2" fill="none"/>
<text x="1030.1" y="133.5" font-size="19" text-anchor="middle">b</text>
<g fill="#a6a6a8">
<circle cx="1098.3" cy="171.7" r="4.4"/>
<circle cx="1086.4" cy="190.6" r="4.4"/>
<circle cx="1110.3" cy="196.9" r="4.4"/>
<circle cx="1098.3" cy="202" r="4.4"/>
<circle cx="1081.7" cy="203.7" r="4.4"/>
<circle cx="1115.3" cy="208.3" r="4.4"/>
<circle cx="1092.3" cy="208.3" r="4.4"/>
<circle cx="1081.7" cy="215.7" r="4.4"/>
<circle cx="1085.3" cy="218" r="4.4"/>
<circle cx="1089" cy="220.4" r="4.4"/>
<circle cx="1092.7" cy="222.7" r="4.4"/>
<circle cx="1096.3" cy="225.1" r="4.4"/>
<circle cx="1100" cy="225.1" r="4.4"/>
<circle cx="1103.7" cy="222.7" r="4.4"/>
<circle cx="1107.3" cy="220.4" r="4.4"/>
<circle cx="1111" cy="218" r="4.4"/>
<circle cx="1114.7" cy="215.7" r="4.4"/>
<circle cx="1081.7" cy="228.3" r="4.4"/>
<circle cx="1085.3" cy="230.7" r="4.4"/>
<circle cx="1089" cy="233" r="4.4"/>
<circle cx="1092.7" cy="235.4" r="4.4"/>
<circle cx="1096.3" cy="237.7" r="4.4"/>
<circle cx="1100" cy="237.7" r="4.4"/>
<circle cx="1103.7" cy="235.4" r="4.4"/>
<circle cx="1107.3" cy="233" r="4.4"/>
<circle cx="1111" cy="230.7" r="4.4"/>
<circle cx="1114.7" cy="228.3" r="4.4"/>
<circle cx="1080.7" cy="244.6" r="4.4"/>
<circle cx="1087.8" cy="245.3" r="4.4"/>
<circle cx="1109.6" cy="244.6" r="4.4"/>
<circle cx="1116.7" cy="241" r="4.4"/>
<circle cx="1094.8" cy="252.3" r="4.4"/>
<circle cx="1101.9" cy="248.8" r="4.4"/>
<circle cx="1082.1" cy="258.6" r="4.4"/>
<circle cx="1114.3" cy="255.8" r="4.4"/>
<circle cx="1090.6" cy="264.3" r="4.4"/>
<circle cx="1106.4" cy="263.6" r="4.4"/>
<circle cx="1082.1" cy="270.6" r="4.4"/>
<circle cx="1114.3" cy="272.7" r="4.4"/>
<circle cx="1089.9" cy="275.6" r="4.4"/>
<circle cx="1098.3" cy="280.5" r="4.4"/>
<circle cx="1106.4" cy="280.5" r="4.4"/>
<circle cx="1081.7" cy="284.4" r="4.4"/>
<circle cx="1115.3" cy="288.5" r="4.4"/>
<circle cx="1092.3" cy="289.7" r="4.4"/>
<circle cx="1104" cy="292.9" r="4.4"/>
<circle cx="1086.4" cy="299.2" r="4.4"/>
<circle cx="1110.3" cy="303" r="4.4"/>
<circle cx="1098.3" cy="310.5" r="4.4"/>
</g>
<path d="M1076.2 241.1H1120.2M1098.2 210.8V270.9M1087.5 210.8H1108.9M1087.5 270.9H1108.9" stroke="#000" stroke-width="2" fill="none"/>
<text x="1097.3" y="151.4" font-size="19" text-anchor="middle">c</text>
<g fill="none" stroke="#15839a" stroke-width="2.15">
<circle cx="1164.6" cy="158.6" r="3.7"/>
<circle cx="1153" cy="178.7" r="3.7"/>
<circle cx="1164.9" cy="182.5" r="3.7"/>
<circle cx="1176.8" cy="176.9" r="3.7"/>
<circle cx="1146.6" cy="191.7" r="3.7"/>
<circle cx="1149.9" cy="193.4" r="3.7"/>
<circle cx="1153.1" cy="195" r="3.7"/>
<circle cx="1156.4" cy="196.7" r="3.7"/>
<circle cx="1159.7" cy="198.4" r="3.7"/>
<circle cx="1163" cy="200" r="3.7"/>
<circle cx="1166.2" cy="200" r="3.7"/>
<circle cx="1169.5" cy="198.4" r="3.7"/>
<circle cx="1172.8" cy="196.7" r="3.7"/>
<circle cx="1176.1" cy="195" r="3.7"/>
<circle cx="1179.3" cy="193.4" r="3.7"/>
<circle cx="1182.6" cy="191.7" r="3.7"/>
<circle cx="1146.6" cy="202" r="3.7"/>
<circle cx="1149.6" cy="203.9" r="3.7"/>
<circle cx="1152.6" cy="205.8" r="3.7"/>
<circle cx="1155.6" cy="207.8" r="3.7"/>
<circle cx="1158.6" cy="209.7" r="3.7"/>
<circle cx="1161.6" cy="211.6" r="3.7"/>
<circle cx="1164.6" cy="213.6" r="3.7"/>
<circle cx="1167.6" cy="211.6" r="3.7"/>
<circle cx="1170.6" cy="209.7" r="3.7"/>
<circle cx="1173.6" cy="207.8" r="3.7"/>
<circle cx="1176.6" cy="205.8" r="3.7"/>
<circle cx="1179.6" cy="203.9" r="3.7"/>
<circle cx="1182.6" cy="202" r="3.7"/>
<circle cx="1146.6" cy="215.7" r="3.7"/>
<circle cx="1149.6" cy="217.4" r="3.7"/>
<circle cx="1152.6" cy="219.2" r="3.7"/>
<circle cx="1155.6" cy="220.9" r="3.7"/>
<circle cx="1158.6" cy="222.7" r="3.7"/>
<circle cx="1161.6" cy="224.5" r="3.7"/>
<circle cx="1164.6" cy="226.2" r="3.7"/>
<circle cx="1167.6" cy="224.5" r="3.7"/>
<circle cx="1170.6" cy="222.7" r="3.7"/>
<circle cx="1173.6" cy="220.9" r="3.7"/>
<circle cx="1176.6" cy="219.2" r="3.7"/>
<circle cx="1179.6" cy="217.4" r="3.7"/>
<circle cx="1182.6" cy="215.7" r="3.7"/>
<circle cx="1146.6" cy="226.2" r="3.7"/>
<circle cx="1149.6" cy="228.3" r="3.7"/>
<circle cx="1152.6" cy="230.5" r="3.7"/>
<circle cx="1155.6" cy="232.6" r="3.7"/>
<circle cx="1158.6" cy="234.7" r="3.7"/>
<circle cx="1161.6" cy="236.8" r="3.7"/>
<circle cx="1164.6" cy="238.9" r="3.7"/>
<circle cx="1167.6" cy="236.8" r="3.7"/>
<circle cx="1170.6" cy="234.7" r="3.7"/>
<circle cx="1173.6" cy="232.6" r="3.7"/>
<circle cx="1176.6" cy="230.5" r="3.7"/>
<circle cx="1179.6" cy="228.3" r="3.7"/>
<circle cx="1182.6" cy="226.2" r="3.7"/>
<circle cx="1146.6" cy="238.2" r="3.7"/>
<circle cx="1149.9" cy="240.6" r="3.7"/>
<circle cx="1153.1" cy="243.1" r="3.7"/>
<circle cx="1156.4" cy="245.5" r="3.7"/>
<circle cx="1159.7" cy="247.9" r="3.7"/>
<circle cx="1163" cy="250.4" r="3.7"/>
<circle cx="1166.2" cy="250.4" r="3.7"/>
<circle cx="1169.5" cy="247.9" r="3.7"/>
<circle cx="1172.8" cy="245.5" r="3.7"/>
<circle cx="1176.1" cy="243.1" r="3.7"/>
<circle cx="1179.3" cy="240.6" r="3.7"/>
<circle cx="1182.6" cy="238.2" r="3.7"/>
<circle cx="1164.9" cy="263.3" r="3.7"/>
<circle cx="1170.9" cy="284" r="3.7"/>
<circle cx="1158.9" cy="295.3" r="3.7"/>
</g>
<path d="M1142.6 220.7H1186.6M1164.6 196.3V245.4M1153.9 196.3H1175.3M1153.9 245.4H1175.3" stroke="#000" stroke-width="2" fill="none"/>
<text x="1164.2" y="136.7" font-size="19" text-anchor="middle">a</text>
<g fill="#17839c">
<circle cx="1231.3" cy="168.7" r="4.4"/>
<circle cx="1214.4" cy="185.2" r="4.4"/>
<circle cx="1225.3" cy="188" r="4.4"/>
<circle cx="1236.7" cy="188" r="4.4"/>
<circle cx="1248.3" cy="185.9" r="4.4"/>
<circle cx="1213" cy="193" r="4.4"/>
<circle cx="1216.3" cy="195" r="4.4"/>
<circle cx="1219.6" cy="197.1" r="4.4"/>
<circle cx="1222.8" cy="199.1" r="4.4"/>
<circle cx="1226.1" cy="201.2" r="4.4"/>
<circle cx="1229.4" cy="203.2" r="4.4"/>
<circle cx="1232.7" cy="203.2" r="4.4"/>
<circle cx="1235.9" cy="201.2" r="4.4"/>
<circle cx="1239.2" cy="199.1" r="4.4"/>
<circle cx="1242.5" cy="197.1" r="4.4"/>
<circle cx="1245.7" cy="195" r="4.4"/>
<circle cx="1249" cy="193" r="4.4"/>
<circle cx="1213" cy="198.6" r="4.4"/>
<circle cx="1216.3" cy="200.8" r="4.4"/>
<circle cx="1219.6" cy="203" r="4.4"/>
<circle cx="1222.8" cy="205.2" r="4.4"/>
<circle cx="1226.1" cy="207.3" r="4.4"/>
<circle cx="1229.4" cy="209.5" r="4.4"/>
<circle cx="1232.7" cy="209.5" r="4.4"/>
<circle cx="1235.9" cy="207.3" r="4.4"/>
<circle cx="1239.2" cy="205.2" r="4.4"/>
<circle cx="1242.5" cy="203" r="4.4"/>
<circle cx="1245.7" cy="200.8" r="4.4"/>
<circle cx="1249" cy="198.6" r="4.4"/>
<circle cx="1213" cy="203.6" r="4.4"/>
<circle cx="1215.8" cy="205.5" r="4.4"/>
<circle cx="1218.6" cy="207.5" r="4.4"/>
<circle cx="1221.3" cy="209.4" r="4.4"/>
<circle cx="1224.1" cy="211.4" r="4.4"/>
<circle cx="1226.9" cy="213.3" r="4.4"/>
<circle cx="1229.6" cy="215.3" r="4.4"/>
<circle cx="1232.4" cy="215.3" r="4.4"/>
<circle cx="1235.2" cy="213.3" r="4.4"/>
<circle cx="1237.9" cy="211.4" r="4.4"/>
<circle cx="1240.7" cy="209.4" r="4.4"/>
<circle cx="1243.5" cy="207.5" r="4.4"/>
<circle cx="1246.3" cy="205.5" r="4.4"/>
<circle cx="1249" cy="203.6" r="4.4"/>
<circle cx="1213" cy="218.1" r="4.4"/>
<circle cx="1220.1" cy="224.7" r="4.4"/>
<circle cx="1227.8" cy="228.2" r="4.4"/>
<circle cx="1234.9" cy="226.1" r="4.4"/>
<circle cx="1241.9" cy="219.8" r="4.4"/>
<circle cx="1250.4" cy="217.6" r="4.4"/>
<circle cx="1214.4" cy="237.4" r="4.4"/>
<circle cx="1225.3" cy="243" r="4.4"/>
<circle cx="1236.7" cy="243" r="4.4"/>
<circle cx="1248.3" cy="242.7" r="4.4"/>
<circle cx="1231.3" cy="267" r="4.4"/>
</g>
<path d="M1209 209.1H1253M1231 191.2V226.8M1220.3 191.2H1241.7M1220.3 226.8H1241.7" stroke="#000" stroke-width="2" fill="none"/>
<text x="1227.9" y="136.7" font-size="19" text-anchor="middle">a</text>
<g fill="none" stroke="#d8392c" stroke-width="2.15">
<circle cx="1291.7" cy="197.2" r="3.7"/>
<circle cx="1303.6" cy="198.6" r="3.7"/>
<circle cx="1281.7" cy="203.8" r="3.7"/>
<circle cx="1289.8" cy="206.1" r="3.7"/>
<circle cx="1305.8" cy="208.5" r="3.7"/>
<circle cx="1313.8" cy="205" r="3.7"/>
<circle cx="1297.6" cy="212" r="3.7"/>
<circle cx="1283.9" cy="222.6" r="3.7"/>
<circle cx="1311.7" cy="225.4" r="3.7"/>
<circle cx="1289.8" cy="224.7" r="3.7"/>
<circle cx="1305.3" cy="224.7" r="3.7"/>
<circle cx="1292.6" cy="217.6" r="3.7"/>
<circle cx="1302.5" cy="218.3" r="3.7"/>
<circle cx="1281.4" cy="236" r="3.7"/>
<circle cx="1313.8" cy="234.6" r="3.7"/>
<circle cx="1291.9" cy="234.6" r="3.7"/>
<circle cx="1303.2" cy="231.7" r="3.7"/>
<circle cx="1279.4" cy="242.3" r="3.7"/>
<circle cx="1282" cy="244.5" r="3.7"/>
<circle cx="1284.6" cy="246.7" r="3.7"/>
<circle cx="1287.2" cy="248.9" r="3.7"/>
<circle cx="1289.7" cy="251.2" r="3.7"/>
<circle cx="1292.3" cy="253.4" r="3.7"/>
<circle cx="1294.9" cy="255.6" r="3.7"/>
<circle cx="1297.4" cy="257.8" r="3.7"/>
<circle cx="1300" cy="255.6" r="3.7"/>
<circle cx="1302.6" cy="253.4" r="3.7"/>
<circle cx="1305.2" cy="251.2" r="3.7"/>
<circle cx="1307.7" cy="248.9" r="3.7"/>
<circle cx="1310.3" cy="246.7" r="3.7"/>
<circle cx="1312.9" cy="244.5" r="3.7"/>
<circle cx="1315.4" cy="242.3" r="3.7"/>
<circle cx="1281.7" cy="262.7" r="3.7"/>
<circle cx="1289.8" cy="268.8" r="3.7"/>
<circle cx="1305.8" cy="269.5" r="3.7"/>
<circle cx="1313.8" cy="263.4" r="3.7"/>
<circle cx="1297.6" cy="271.5" r="3.7"/>
<circle cx="1281" cy="279.4" r="3.7"/>
<circle cx="1314.5" cy="279.4" r="3.7"/>
<circle cx="1291.9" cy="286.4" r="3.7"/>
<circle cx="1303.2" cy="286.4" r="3.7"/>
<circle cx="1281.7" cy="293.5" r="3.7"/>
<circle cx="1289.8" cy="296.6" r="3.7"/>
<circle cx="1297.6" cy="300.1" r="3.7"/>
<circle cx="1305.8" cy="299.4" r="3.7"/>
<circle cx="1313.8" cy="293.5" r="3.7"/>
</g>
<path d="M1275.4 246H1319.4M1297.4 218.7V273.6M1286.7 218.7H1308.1M1286.7 273.6H1308.1" stroke="#000" stroke-width="2" fill="none"/>
<text x="1297.7" y="173.5" font-size="19" text-anchor="middle">b</text>
<g fill="#d8392c">
<circle cx="1352.1" cy="187.7" r="4.4"/>
<circle cx="1364" cy="191.6" r="4.4"/>
<circle cx="1381.7" cy="190.8" r="4.4"/>
<circle cx="1381" cy="193.9" r="4.4"/>
<circle cx="1347.8" cy="197" r="4.4"/>
<circle cx="1348.9" cy="201.6" r="4.4"/>
<circle cx="1352.6" cy="203.1" r="4.4"/>
<circle cx="1356.4" cy="204.7" r="4.4"/>
<circle cx="1360.1" cy="206.2" r="4.4"/>
<circle cx="1363.9" cy="207.8" r="4.4"/>
<circle cx="1367.6" cy="206.2" r="4.4"/>
<circle cx="1371.4" cy="204.7" r="4.4"/>
<circle cx="1375.1" cy="203.1" r="4.4"/>
<circle cx="1378.9" cy="201.6" r="4.4"/>
<circle cx="1345.9" cy="210.4" r="4.4"/>
<circle cx="1349.9" cy="212.4" r="4.4"/>
<circle cx="1353.9" cy="214.4" r="4.4"/>
<circle cx="1357.9" cy="216.4" r="4.4"/>
<circle cx="1361.9" cy="218.3" r="4.4"/>
<circle cx="1365.9" cy="218.3" r="4.4"/>
<circle cx="1369.9" cy="216.4" r="4.4"/>
<circle cx="1373.9" cy="214.4" r="4.4"/>
<circle cx="1377.9" cy="212.4" r="4.4"/>
<circle cx="1381.9" cy="210.4" r="4.4"/>
<circle cx="1380.2" cy="220.9" r="4.4"/>
<circle cx="1347.8" cy="227.8" r="4.4"/>
<circle cx="1355.5" cy="231.7" r="4.4"/>
<circle cx="1371.7" cy="228.6" r="4.4"/>
<circle cx="1377.9" cy="233.2" r="4.4"/>
<circle cx="1351.7" cy="234" r="4.4"/>
<circle cx="1348.9" cy="229.4" r="4.4"/>
<circle cx="1353.1" cy="232.1" r="4.4"/>
<circle cx="1357.4" cy="234.9" r="4.4"/>
<circle cx="1361.7" cy="237.7" r="4.4"/>
<circle cx="1366" cy="237.7" r="4.4"/>
<circle cx="1370.3" cy="234.9" r="4.4"/>
<circle cx="1374.6" cy="232.1" r="4.4"/>
<circle cx="1378.9" cy="229.4" r="4.4"/>
<circle cx="1345.9" cy="244.8" r="4.4"/>
<circle cx="1349.5" cy="246.9" r="4.4"/>
<circle cx="1353.1" cy="249.1" r="4.4"/>
<circle cx="1356.7" cy="251.3" r="4.4"/>
<circle cx="1360.3" cy="253.4" r="4.4"/>
<circle cx="1363.9" cy="255.6" r="4.4"/>
<circle cx="1367.5" cy="253.4" r="4.4"/>
<circle cx="1371.1" cy="251.3" r="4.4"/>
<circle cx="1374.7" cy="249.1" r="4.4"/>
<circle cx="1378.3" cy="246.9" r="4.4"/>
<circle cx="1381.9" cy="244.8" r="4.4"/>
<circle cx="1369.4" cy="262.5" r="4.4"/>
<circle cx="1357.8" cy="268.7" r="4.4"/>
<circle cx="1350.1" cy="284.1" r="4.4"/>
<circle cx="1357.8" cy="284.1" r="4.4"/>
<circle cx="1370.2" cy="283.3" r="4.4"/>
<circle cx="1377.9" cy="283.8" r="4.4"/>
<circle cx="1361.7" cy="291" r="4.4"/>
<circle cx="1366.3" cy="291" r="4.4"/>
<circle cx="1347.8" cy="294.1" r="4.4"/>
<circle cx="1380.2" cy="296.4" r="4.4"/>
<circle cx="1356" cy="299.5" r="4.4"/>
<circle cx="1372.2" cy="299.5" r="4.4"/>
<circle cx="1364" cy="305.4" r="4.4"/>
</g>
<path d="M1341.9 240.3H1385.9M1363.9 207.1V273.6M1353.2 207.1H1374.6M1353.2 273.6H1374.6" stroke="#000" stroke-width="2" fill="none"/>
<text x="1363.8" y="165.8" font-size="19" text-anchor="middle">b</text>
<g fill="#a6a6a8">
<circle cx="1413.8" cy="202.4" r="4.4"/>
<circle cx="1413.3" cy="214.7" r="4.4"/>
<circle cx="1424.1" cy="211.6" r="4.4"/>
<circle cx="1436.5" cy="212.4" r="4.4"/>
<circle cx="1447.3" cy="208.5" r="4.4"/>
<circle cx="1449.6" cy="215.5" r="4.4"/>
<circle cx="1418.3" cy="215.5" r="4.4"/>
<circle cx="1422.3" cy="218.3" r="4.4"/>
<circle cx="1426.3" cy="221.1" r="4.4"/>
<circle cx="1430.3" cy="224" r="4.4"/>
<circle cx="1434.3" cy="221.1" r="4.4"/>
<circle cx="1438.3" cy="218.3" r="4.4"/>
<circle cx="1442.3" cy="215.5" r="4.4"/>
<circle cx="1412.3" cy="231.7" r="4.4"/>
<circle cx="1416.3" cy="233.7" r="4.4"/>
<circle cx="1420.3" cy="235.8" r="4.4"/>
<circle cx="1424.3" cy="237.8" r="4.4"/>
<circle cx="1428.3" cy="239.9" r="4.4"/>
<circle cx="1432.3" cy="239.9" r="4.4"/>
<circle cx="1436.3" cy="237.8" r="4.4"/>
<circle cx="1440.3" cy="235.8" r="4.4"/>
<circle cx="1444.3" cy="233.7" r="4.4"/>
<circle cx="1448.3" cy="231.7" r="4.4"/>
<circle cx="1414.9" cy="246.3" r="4.4"/>
<circle cx="1446.5" cy="247.9" r="4.4"/>
<circle cx="1422.6" cy="252.5" r="4.4"/>
<circle cx="1438" cy="254" r="4.4"/>
<circle cx="1430.3" cy="260.2" r="4.4"/>
<circle cx="1413.3" cy="270.2" r="4.4"/>
<circle cx="1447.3" cy="269.4" r="4.4"/>
<circle cx="1424.1" cy="262.5" r="4.4"/>
<circle cx="1436.5" cy="264" r="4.4"/>
<circle cx="1414.1" cy="280.2" r="4.4"/>
<circle cx="1446.5" cy="280.2" r="4.4"/>
<circle cx="1424.1" cy="279.5" r="4.4"/>
<circle cx="1436.5" cy="278.7" r="4.4"/>
<circle cx="1412.3" cy="281.8" r="4.4"/>
<circle cx="1416.3" cy="284.3" r="4.4"/>
<circle cx="1420.3" cy="286.9" r="4.4"/>
<circle cx="1424.3" cy="289.5" r="4.4"/>
<circle cx="1428.3" cy="292.1" r="4.4"/>
<circle cx="1432.3" cy="292.1" r="4.4"/>
<circle cx="1436.3" cy="289.5" r="4.4"/>
<circle cx="1440.3" cy="286.9" r="4.4"/>
<circle cx="1444.3" cy="284.3" r="4.4"/>
<circle cx="1448.3" cy="281.8" r="4.4"/>
<circle cx="1411.3" cy="294.9" r="4.4"/>
<circle cx="1415.1" cy="297" r="4.4"/>
<circle cx="1418.9" cy="299.2" r="4.4"/>
<circle cx="1422.7" cy="301.4" r="4.4"/>
<circle cx="1426.5" cy="303.5" r="4.4"/>
<circle cx="1430.3" cy="305.7" r="4.4"/>
<circle cx="1434.1" cy="303.5" r="4.4"/>
<circle cx="1437.9" cy="301.4" r="4.4"/>
<circle cx="1441.7" cy="299.2" r="4.4"/>
<circle cx="1445.5" cy="297" r="4.4"/>
<circle cx="1449.3" cy="294.9" r="4.4"/>
<circle cx="1413.8" cy="310.3" r="4.4"/>
<circle cx="1447.3" cy="313.4" r="4.4"/>
<circle cx="1424.9" cy="314.2" r="4.4"/>
<circle cx="1436.2" cy="318.8" r="4.4"/>
<circle cx="1430.6" cy="331.9" r="4.4"/>
</g>
<path d="M1408.3 266.1H1452.3M1430.3 230.9V301.1M1419.6 230.9H1441M1419.6 301.1H1441" stroke="#000" stroke-width="2" fill="none"/>
<text x="1428.9" y="173.9" font-size="19" text-anchor="middle">c</text>
<path d="M123.85 53.9V452.3" stroke="#000" stroke-width="2.2" fill="none"/><path d="M108 451.1H1479.8" stroke="#000" stroke-width="2.3" fill="none"/>
<text x="102.8" y="456.8" font-size="22.5" text-anchor="end">0</text>
<path d="M108 385.1H124" stroke="#000" stroke-width="1.8"/>
<text x="102.8" y="390.8" font-size="22.5" text-anchor="end">1</text>
<path d="M108 319H124" stroke="#000" stroke-width="1.8"/>
<text x="102.8" y="324.7" font-size="22.5" text-anchor="end">2</text>
<path d="M108 253H124" stroke="#000" stroke-width="1.8"/>
<text x="102.8" y="258.7" font-size="22.5" text-anchor="end">3</text>
<path d="M108 186.9H124" stroke="#000" stroke-width="1.8"/>
<text x="102.8" y="192.6" font-size="22.5" text-anchor="end">4</text>
<path d="M108 120.8H124" stroke="#000" stroke-width="1.8"/>
<text x="102.8" y="126.5" font-size="22.5" text-anchor="end">5</text>
<path d="M108 54.8H124" stroke="#000" stroke-width="1.8"/>
<text x="102.8" y="60.5" font-size="22.5" text-anchor="end">6</text>
<text transform="translate(50 254.6) rotate(-90)" font-size="25.2" text-anchor="middle" textLength="186" lengthAdjust="spacing">Larval size (mm)</text>
<text x="3.2" y="30" font-size="40" font-weight="bold">A</text>
<text x="238" y="494.2" font-size="24.6" font-style="italic">Lp</text><text x="265.5" y="484.9" font-size="17" textLength="64.4" lengthAdjust="spacing">FlyG2.1.8</text>
<text x="585.3" y="492.7" font-size="24.6" font-style="italic">Lp</text><text x="612.7" y="483.4" font-size="17" textLength="69" lengthAdjust="spacing">NIZO2877</text>
<text x="936.4" y="491.8" font-size="24.6" font-style="italic">Lp</text><text x="964.2" y="482.3" font-size="17" textLength="30.8" lengthAdjust="spacing">NC8</text>
<text x="1262" y="490.4" font-size="24.6" font-style="italic">Lp</text><text x="1289.6" y="480.8" font-size="17" textLength="40.8" lengthAdjust="spacing">Δdltop</text>
<circle cx="1516.3" cy="72.7" r="3.85" fill="none" stroke="#15839a" stroke-width="2.4"/>
<text x="1542.7" y="79.9" font-size="19.8" textLength="214" lengthAdjust="spacing">Live and growing (-Ery)</text>
<rect x="1475.3" y="92.6" width="27.4" height="124.3" fill="none" stroke="#000" stroke-width="2"/>
<rect x="1502.7" y="92.6" width="266" height="124.6" fill="none" stroke="#000" stroke-width="2.2"/>
<text transform="translate(1493.2 153.4) rotate(-90)" font-size="17.3" text-anchor="middle" textLength="88.4" lengthAdjust="spacing">Daily addition</text>
<circle cx="1517.5" cy="115.6" r="4.4" fill="#17839c"/>
<text x="1543.2" y="118.2" font-size="19.8" textLength="202.4" lengthAdjust="spacing">Live and stable (+Ery)</text>
<circle cx="1518.1" cy="156.2" r="3.85" fill="none" stroke="#d8392c" stroke-width="2.4"/>
<text x="1545.7" y="161" font-size="19.8" textLength="103.3" lengthAdjust="spacing">Dead (-Ery)</text>
<circle cx="1518.1" cy="198.9" r="4.4" fill="#d8392c"/>
<text x="1546.5" y="204.8" font-size="19.8" textLength="109.1" lengthAdjust="spacing">Dead (+Ery)</text>
<circle cx="1518.4" cy="245.4" r="4.4" fill="#a6a6a8"/>
<text x="1547.6" y="251.2" font-size="19.8" textLength="27.2" lengthAdjust="spacing">GF</text>
</g>
<g id="panelB">
<text x="5.6" y="592.4" font-size="41" font-weight="bold" textLength="27.6" lengthAdjust="spacingAndGlyphs">B</text>
<path d="M140.0 610.1V1048.6M127.4 611.1H140.0M133 685.5H140.0M133 666.7H140.0M133 653.5H140.0M133 643.1H140.0M133 634.7H140.0M133 627.6H140.0M133 621.4H140.0M133 616H140.0M127.4 717.5H140.0M133 791.9H140.0M133 773.2H140.0M133 759.9H140.0M133 749.6H140.0M133 741.1H140.0M133 734H140.0M133 727.8H140.0M133 722.4H140.0M127.4 824H140.0M133 898.4H140.0M133 879.6H140.0M133 866.3H140.0M133 856H140.0M133 847.6H140.0M133 840.4H140.0M133 834.3H140.0M133 828.8H140.0M127.4 930.4H140.0M133 1004.8H140.0M133 986H140.0M133 972.7H140.0M133 962.4H140.0M133 954H140.0M133 946.9H140.0M133 940.7H140.0M133 935.3H140.0M127.4 1036.8H140.0" stroke="#000" stroke-width="2" fill="none"/>
<path d="M127.4 1036.8H200.8M199.9 1026V1046.8M231.5 1026V1046.8M230.6 1036.8H779M281.5 1036.8V1048.6M530.3 1036.8V1048.6M778.2 1036.8V1048.6" stroke="#000" stroke-width="2" fill="none"/>
<path d="M778.2 609.8V1036.8" stroke="#000" stroke-width="1.5" fill="none"/>
<text x="81.9" y="617" font-size="27.3">10</text><text x="113.2" y="609.6" font-size="18.2">9</text>
<text x="81.9" y="723.4" font-size="27.3">10</text><text x="113.2" y="716" font-size="18.2">8</text>
<text x="81.9" y="829.9" font-size="27.3">10</text><text x="113.2" y="822.5" font-size="18.2">7</text>
<text x="81.9" y="936.3" font-size="27.3">10</text><text x="113.2" y="928.9" font-size="18.2">6</text>
<text x="81.9" y="1042.7" font-size="27.3">10</text><text x="113.2" y="1035.3" font-size="18.2">5</text>
<text x="139.2" y="1078" font-size="27.2" text-anchor="middle">1</text>
<text x="281.3" y="1078" font-size="27.2" text-anchor="middle">3.5</text>
<text x="530.3" y="1078" font-size="27.2" text-anchor="middle">4.0</text>
<text x="779.3" y="1078" font-size="27.2" text-anchor="middle">4.5</text>
<text x="356.9" y="1126.2" font-size="27.3" textLength="201.6" lengthAdjust="spacing">Larval size (mm)</text>
<text transform="translate(38.4 824.6) rotate(-90)" font-size="27" text-anchor="middle" textLength="91.6" lengthAdjust="spacing">CFU/ml</text>
<g fill="none" stroke="#21a0b7" stroke-width="4.2"><circle cx="255.7" cy="763.2" r="6.1"/><circle cx="274.8" cy="774.7" r="6.1"/><circle cx="274.8" cy="799.6" r="6.1"/></g>
<g fill="#14819a"><circle cx="345" cy="847" r="6.8"/><circle cx="364.3" cy="861.9" r="6.8"/><circle cx="383.3" cy="855.1" r="6.8"/></g>
<g fill="none" stroke="#b583c8" stroke-width="4.2"><circle cx="469.2" cy="696.9" r="6.1"/><circle cx="469.2" cy="717.8" r="6.1"/><circle cx="488.5" cy="714" r="6.1"/></g>
<g fill="#b583c8"><circle cx="471.8" cy="757.6" r="6.8"/><circle cx="490.8" cy="768.6" r="6.8"/><circle cx="490.8" cy="790" r="6.8"/></g>
<g fill="none" stroke="#1b586a" stroke-width="4.2"><circle cx="575.4" cy="642.5" r="6.1"/><circle cx="594.5" cy="647.4" r="6.1"/><circle cx="594.5" cy="671" r="6.1"/></g>
<g fill="#1b586a"><circle cx="559.3" cy="702.7" r="6.8"/><circle cx="569" cy="712" r="6.8"/><circle cx="559.3" cy="725.9" r="6.8"/></g>
<g fill="none" stroke="#8c178c" stroke-width="4.2"><circle cx="652.9" cy="638.4" r="6.1"/><circle cx="662.4" cy="654.6" r="6.1"/><circle cx="672.9" cy="652.4" r="6.1"/></g>
<g fill="#8c178c"><circle cx="722.2" cy="665.8" r="6.8"/><circle cx="741.4" cy="675.4" r="6.8"/><circle cx="731.8" cy="681.5" r="6.8"/></g>
<g fill="none" stroke="#000" stroke-width="4.2"><circle cx="819.9" cy="617.4" r="6.45"/></g>
<g fill="#000"><circle cx="819.9" cy="660" r="7.0"/></g>
<text x="867.9" y="627.3" font-size="27.8" textLength="211" lengthAdjust="spacing">-Ery [no addition]</text>
<text x="867.9" y="669.6" font-size="27.8" textLength="246.8" lengthAdjust="spacing">+Ery [daily addition]</text>
<g fill="#8c178c"><circle cx="820.1" cy="791.8" r="6.6"/></g>
<text x="868.6" y="802" font-size="26.7" font-style="italic">Lp</text><text x="897.6" y="791.1" font-size="17.8" textLength="69.6" lengthAdjust="spacing">FlyG2.1.8</text>
<g fill="#b583c8"><circle cx="820.1" cy="841" r="6.6"/></g>
<text x="868.6" y="851.2" font-size="26.7" font-style="italic">Lp</text><text x="897.6" y="840.3" font-size="17.8" textLength="72.9" lengthAdjust="spacing">NIZO2877</text>
<g fill="#1b586a"><circle cx="820.1" cy="889.8" r="6.6"/></g>
<text x="868.6" y="900" font-size="26.7" font-style="italic">Lp</text><text x="897.6" y="889.1" font-size="17.8" textLength="33.6" lengthAdjust="spacing">NC8</text>
<g fill="#14819a"><circle cx="820.1" cy="940.9" r="6.6"/></g>
<text x="868.6" y="951.1" font-size="26.7" font-style="italic">Lp</text><text x="897.6" y="940.2" font-size="17.8" textLength="44" lengthAdjust="spacing">Δdltop</text>
<text x="629.2" y="980.4" font-size="27" textLength="122.6" lengthAdjust="spacing"><tspan font-style="italic">r</tspan> = 0.7661</text>
<text x="629.4" y="1014.9" font-size="27" textLength="129" lengthAdjust="spacing">p &lt; 0.0001</text>
</g>
</svg>
</body></html>
